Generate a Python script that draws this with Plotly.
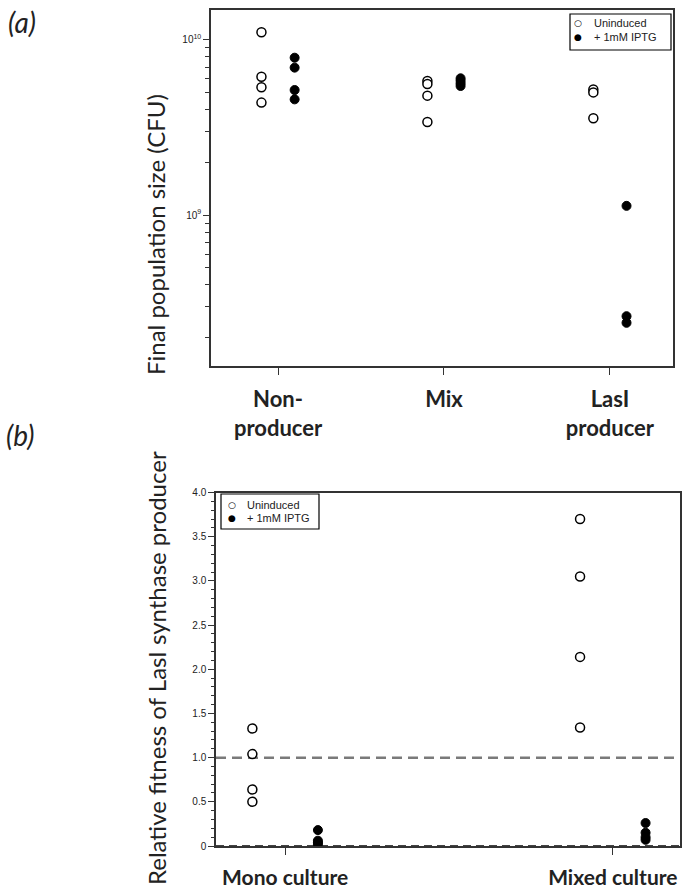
import plotly.graph_objects as go

# panel (a): final population size (CFU), one list per group
groups_a = ["Non-<br>producer", "Mix", "LasI<br>producer"]
pop_uninduced = [
    [1.107e10, 6.17e9, 5.37e9, 4.39e9],
    [5.83e9, 5.61e9, 4.81e9, 3.40e9],
    [5.22e9, 5.02e9, 3.57e9],
]
pop_iptg = [
    [7.92e9, 6.95e9, 5.18e9, 4.58e9],
    [6.04e9, 5.85e9, 5.65e9, 5.46e9],
    [1.13e9, 2.65e8, 2.43e8],
]

# panel (b): relative fitness of LasI synthase producer
groups_b = ["Mono culture", "Mixed culture"]
fit_uninduced = [
    [1.33, 1.04, 0.64, 0.50],
    [3.70, 3.05, 2.14, 1.34],
]
fit_iptg = [
    [0.18, 0.06, 0.04, 0.02],
    [0.26, 0.15, 0.10, 0.07],
]

legend_names = ["Uninduced", "+ 1mM IPTG"]

W, H = 685, 894
TXT = "#222222"
AX = "#333333"
label_font = "Lato, Open Sans, sans-serif"
small_font = "Liberation Sans, Arial, sans-serif"


def spread(lists, offset):
    xs, ys = [], []
    for i, vals in enumerate(lists):
        xs += [i + 1 + offset] * len(vals)
        ys += vals
    return xs, ys


def px(xp, yp):
    # pixel position -> paper fraction
    return xp / W, 1 - yp / H


open_marker = dict(symbol="circle", size=9, color="white", line=dict(color="black", width=1.5))
fill_marker = dict(symbol="circle", size=9, color="black", line=dict(color="black", width=1))

fig = go.Figure()

x, y = spread(pop_uninduced, -0.1)
fig.add_trace(go.Scatter(x=x, y=y, mode="markers", marker=open_marker, name=legend_names[0],
                         xaxis="x", yaxis="y"))
x, y = spread(pop_iptg, 0.1)
fig.add_trace(go.Scatter(x=x, y=y, mode="markers", marker=fill_marker, name=legend_names[1],
                         xaxis="x", yaxis="y"))

# reference lines in panel (b)
fig.add_trace(go.Scatter(x=[0.789, 2.205], y=[1, 1], mode="lines",
                         line=dict(color="#7a7a7a", width=2.5, dash="10px,6px"),
                         xaxis="x2", yaxis="y2", hoverinfo="skip"))
fig.add_trace(go.Scatter(x=[0.789, 2.205], y=[0, 0], mode="lines",
                         line=dict(color="#444444", width=2, dash="8px,5px"),
                         xaxis="x2", yaxis="y2", hoverinfo="skip"))

x, y = spread(fit_uninduced, -0.1)
fig.add_trace(go.Scatter(x=x, y=y, mode="markers", marker=open_marker, name=legend_names[0],
                         xaxis="x2", yaxis="y2"))
x, y = spread(fit_iptg, 0.1)
fig.add_trace(go.Scatter(x=x, y=y, mode="markers", marker=fill_marker, name=legend_names[1],
                         xaxis="x2", yaxis="y2"))

minor_log = [m * 10 ** e for e in (8, 9) for m in range(2, 10)]

common_axis = dict(showline=True, linecolor=AX, linewidth=1.5, mirror=True,
                   showgrid=False, zeroline=False, automargin=False,
                   ticks="outside", tickcolor=AX)

fig.update_layout(
    width=W,
    height=H,
    margin=dict(l=0, r=0, t=0, b=0),
    paper_bgcolor="white",
    plot_bgcolor="white",
    showlegend=False,
    xaxis=dict(
        common_axis,
        domain=[211 / W, 673 / W],
        range=[0.596, 3.38],
        tickmode="array",
        tickvals=[1, 2, 3],
        ticktext=["<b>%s</b>" % g for g in groups_a],
        ticklen=7,
        tickfont=dict(family=label_font, size=22, color=TXT),
        ticklabelstandoff=6,
        anchor="y",
    ),
    yaxis=dict(
        common_axis,
        domain=[1 - 366 / H, 1 - 10 / H],
        type="log",
        range=[8.139, 10.171],
        tickmode="array",
        tickvals=[1e9, 1e10],
        ticktext=["10<sup>9</sup>", "10<sup>10</sup>"],
        ticklen=6,
        tickfont=dict(family=small_font, size=10, color=TXT),
        minor=dict(tickmode="array", tickvals=minor_log, ticks="outside", ticklen=4, tickcolor=AX),
        anchor="x",
    ),
    xaxis2=dict(
        common_axis,
        domain=[216 / W, 680 / W],
        range=[0.789, 2.205],
        tickmode="array",
        tickvals=[1, 2],
        ticktext=["<b>%s</b>" % g for g in groups_b],
        ticklen=7,
        tickfont=dict(family=label_font, size=21, color=TXT),
        ticklabelstandoff=5,
        anchor="y2",
    ),
    yaxis2=dict(
        common_axis,
        domain=[1 - 846 / H, 1 - 492.5 / H],
        range=[0, 4.0],
        tickmode="array",
        tickvals=[0, 0.5, 1, 1.5, 2, 2.5, 3, 3.5, 4],
        ticktext=["0", "0.5", "1.0", "1.5", "2.0", "2.5", "3.0", "3.5", "4.0"],
        ticklen=6,
        tickfont=dict(family=small_font, size=10, color=TXT),
        minor=dict(dtick=0.1, tick0=0, ticks="outside", ticklen=3, tickcolor=AX),
        anchor="x2",
    ),
)

# hand-drawn legend boxes (compact, like the original)
for (bx0, by0, bx1, by1) in [(570, 14, 671, 50), (221, 494, 319, 529)]:
    x0, y0 = px(bx0, by0)
    x1, y1 = px(bx1, by1)
    fig.add_shape(type="rect", xref="paper", yref="paper", x0=x0, y0=y1, x1=x1, y1=y0,
                  line=dict(color="black", width=1.2), fillcolor="white", layer="above")

legend_rows = [((578, 23.5), (592, 23.5)), ((578, 37), (592, 37)),
               ((232, 504.5), (245, 504.5)), ((232, 518), (245, 518))]
symbols = ["<b>○</b>", "●", "<b>○</b>", "●"]
for k, ((sx, sy), (tx, ty)) in enumerate(legend_rows):
    a, b = px(sx, sy)
    fig.add_annotation(text=symbols[k], x=a, y=b, xref="paper", yref="paper",
                       xanchor="center", yanchor="middle", showarrow=False,
                       font=dict(family="DejaVu Sans", size=9, color="black"))
    a, b = px(tx, ty)
    fig.add_annotation(text=legend_names[k % 2], x=a, y=b, xref="paper", yref="paper",
                       xanchor="left", yanchor="middle", showarrow=False,
                       font=dict(family=small_font, size=11, color=TXT))

# panel letters and y titles
for letter, (lx, ly) in [("(a)", (6, 22)), ("(b)", (4, 435))]:
    a, b = px(lx, ly)
    fig.add_annotation(text="<i>%s</i>" % letter, x=a, y=b, xref="paper", yref="paper",
                       xanchor="left", yanchor="middle", showarrow=False,
                       font=dict(family=label_font, size=28, color=TXT))

for title, (tx, ty) in [("Final population size (CFU)", (156, 235)),
                        ("Relative fitness of LasI synthase producer", (156, 668))]:
    a, b = px(tx, ty)
    fig.add_annotation(text=title, x=a, y=b, xref="paper", yref="paper",
                       xanchor="center", yanchor="middle", textangle=-90, showarrow=False,
                       font=dict(family=label_font, size=24, color=TXT))

# drop the default page margin so the figure sits at the window's top-left corner
fig.write_html("out.html", config={"displayModeBar": False},
               post_script="document.body.style.margin='0';")
